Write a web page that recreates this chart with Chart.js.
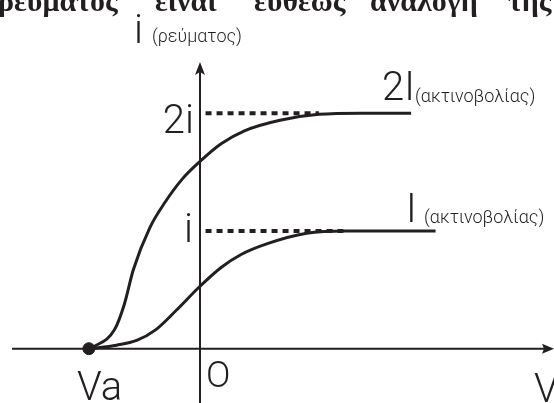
<!DOCTYPE html>
<html>
<head>
<meta charset="utf-8">
<script src="https://cdn.jsdelivr.net/npm/chart.js@4/dist/chart.umd.min.js"></script>
<style>
  html, body { margin: 0; padding: 0; background: #fff; }
  canvas { display: block; }
</style>
</head>
<body>
<canvas id="photo-chart" width="554" height="403"></canvas>
<script>
// Photocurrent i vs voltage V for two radiation intensities (I and 2I)
const upperV = [-1, -0.95, -0.77, -0.68, -0.6, -0.45, -0.31, -0.16, 0, 0.19, 0.4, 0.72, 1.07, 1.45, 1.9];
const upperI = [0, 0.02, 0.16, 0.38, 0.67, 1.03, 1.25, 1.44, 1.59, 1.74, 1.85, 1.94, 1.99, 2.0, 2.0];

const lowerV = [-1, -0.75, -0.57, -0.4, -0.22, 0, 0.19, 0.37, 0.6, 0.96, 1.31, 2.12];
const lowerI = [0, 0.03, 0.07, 0.16, 0.32, 0.53, 0.69, 0.8, 0.89, 0.98, 1.0, 1.0];

// saturation levels and where their dashed guides stop
const levels = [1, 2];
const levelEnds = [1.29, 1.07];

// stopping voltage
const stopV = -1;

const headline = ["ρεύματος", "είναι", "ευθέως", "ανάλογη", "της"];
const headlineX = [-2, 155, 254, 370, 508];

const ink = "#231f20";
const labelFont = '"Roboto", "Liberation Sans", sans-serif';

function toPoints(xs, ys) {
  return xs.map((x, i) => ({ x: x, y: ys[i] }));
}

const guidePlugin = {
  id: "guides",
  afterDraw(chart) {
    const ctx = chart.ctx;
    const xs = chart.scales.x;
    const ys = chart.scales.y;
    const ox = xs.getPixelForValue(0);
    const oy = ys.getPixelForValue(0);

    ctx.save();
    ctx.strokeStyle = ink;
    ctx.fillStyle = ink;
    ctx.lineWidth = 2;

    // axes
    ctx.beginPath();
    ctx.moveTo(12, oy);
    ctx.lineTo(chart.width - 4, oy);
    ctx.moveTo(ox, chart.height);
    ctx.lineTo(ox, 68);
    ctx.stroke();

    // arrow heads
    ctx.beginPath();
    ctx.moveTo(chart.width, oy);
    ctx.lineTo(chart.width - 12, oy - 5);
    ctx.lineTo(chart.width - 10, oy);
    ctx.lineTo(chart.width - 12, oy + 5);
    ctx.closePath();
    ctx.fill();
    ctx.beginPath();
    ctx.moveTo(ox, 62);
    ctx.lineTo(ox - 5, 75);
    ctx.lineTo(ox, 72);
    ctx.lineTo(ox + 5, 75);
    ctx.closePath();
    ctx.fill();

    // axis labels
    ctx.textBaseline = "alphabetic";
    ctx.textAlign = "right";
    ctx.font = "300 40px " + labelFont;
    ctx.fillText("2i", ox - 6, ys.getPixelForValue(2) + 20);
    ctx.fillText("i", ox - 7, ys.getPixelForValue(1) + 11);

    ctx.textAlign = "left";
    ctx.fillText("i", 134, 43);
    ctx.fillText("2I", 382, 100);
    ctx.fillText("I", 406, 222);
    ctx.fillText("Va", xs.getPixelForValue(stopV) - 12, 400);
    ctx.fillText("V", 534, 402);
    ctx.font = "300 36px " + labelFont;
    ctx.fillText("O", ox + 6, 387);

    ctx.font = "300 18px " + labelFont;
    ctx.fillText("(ρεύματος)", 152, 42);
    ctx.fillText("(ακτινοβολίας)", 415, 102);
    ctx.fillText("(ακτινοβολίας)", 424, 223);

    // sentence running across the top edge
    ctx.font = 'bold 30px "Liberation Serif", "DejaVu Serif", serif';
    headline.forEach((w, i) => ctx.fillText(w, headlineX[i], 11));
    ctx.restore();
  }
};

const curveStyle = {
  borderColor: ink,
  borderWidth: 3,
  pointRadius: 0,
  fill: false,
  cubicInterpolationMode: "monotone"
};

new Chart(document.getElementById("photo-chart").getContext("2d"), {
  type: "scatter",
  data: {
    datasets: [
      {
        data: levels.flatMap((lv, i) => [{ x: 0.05, y: lv }, { x: levelEnds[i], y: lv }, { x: NaN, y: NaN }]),
        showLine: true,
        spanGaps: false,
        borderColor: ink,
        borderWidth: 4,
        borderDash: [6, 5],
        pointRadius: 0
      },
      Object.assign({ data: toPoints(upperV, upperI), showLine: true }, curveStyle),
      Object.assign({ data: toPoints(lowerV, lowerI), showLine: true }, curveStyle),
      {
        data: [{ x: stopV, y: 0 }],
        pointRadius: 6,
        pointBackgroundColor: ink,
        pointBorderColor: ink,
        showLine: false
      }
    ]
  },
  options: {
    responsive: false,
    animation: false,
    layout: { padding: 0 },
    plugins: { legend: { display: false }, tooltip: { enabled: false } },
    scales: {
      x: { type: "linear", display: false, min: -198 / 114, max: 356 / 114 },
      y: { type: "linear", display: false, min: -49 / 122, max: 354 / 122 }
    }
  },
  plugins: [guidePlugin]
});
</script>
</body>
</html>
